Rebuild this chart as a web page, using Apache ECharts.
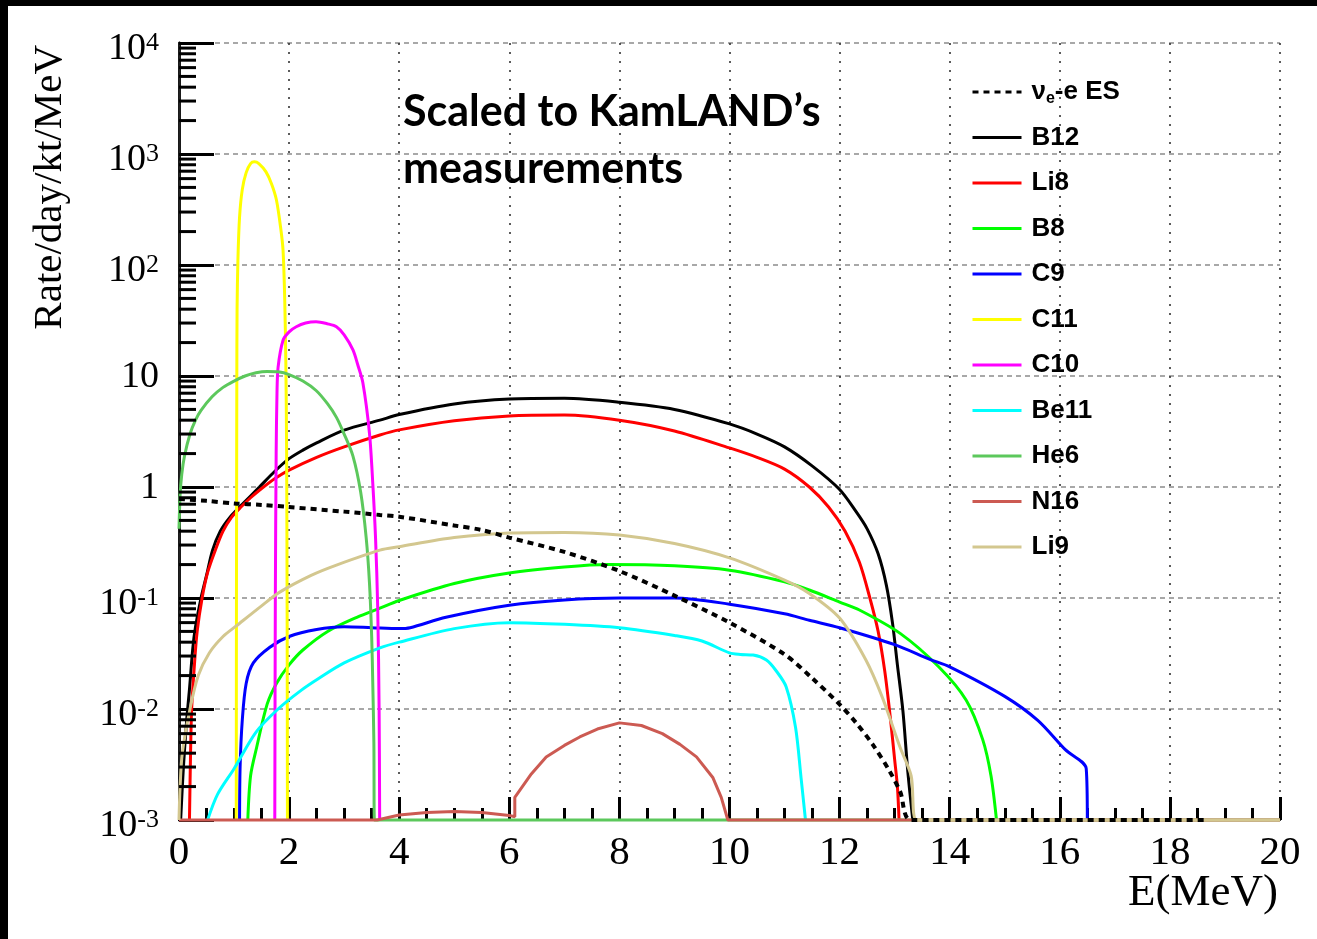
<!DOCTYPE html>
<html>
<head>
<meta charset="utf-8">
<script src="https://cdn.jsdelivr.net/npm/echarts@6/dist/echarts.min.js"></script>
<style>
  html, body { margin: 0; padding: 0; background: #fff; }
  #chart { width: 1317px; height: 939px; }
</style>
</head>
<body>
<div id="chart"></div>
<script>
// Spectra: [E (MeV), rate (/day/kt/MeV)]
const nueES = [[0,0.78],[0.5,0.75],[1,0.71],[1.5,0.69],[2,0.66],[3,0.6],[3.65,0.56],[4,0.54],[5,0.45],[5.5,0.41],[6,0.35],[7,0.26],[8,0.175],[9,0.105],[10,0.06],[11,0.031],[11.5,0.019],[12,0.011],[12.3,0.0075],[12.6,0.0048],[12.9,0.0028],[13.1,0.0018],[13.3,0.001],[18.7,0.001]];
const b12 = [[0.03,0.001],[0.08,0.003],[0.14,0.008],[0.19,0.015],[0.25,0.035],[0.3,0.055],[0.4,0.1],[0.5,0.16],[0.61,0.27],[0.75,0.4],[0.92,0.53],[1.14,0.69],[1.46,1.0],[1.75,1.4],[2,1.8],[2.25,2.15],[2.5,2.5],[3,3.25],[3.65,4.0],[4,4.5],[5,5.6],[6,6.2],[7,6.3],[8,5.8],[9,5.0],[10,3.7],[10.5,3.0],[11,2.3],[11.5,1.55],[12,0.95],[12.3,0.6],[12.5,0.42],[12.7,0.25],[12.85,0.13],[12.96,0.06],[13.05,0.025],[13.15,0.0096],[13.24,0.0027],[13.33,0.001]];
const li8 = [[0.19,0.001],[0.21,0.004],[0.23,0.01],[0.28,0.025],[0.33,0.05],[0.42,0.1],[0.52,0.17],[0.66,0.27],[0.8,0.4],[0.95,0.53],[1.14,0.67],[1.3,0.8],[1.5,0.97],[1.75,1.2],[2,1.42],[2.5,1.85],[3,2.3],[3.65,2.94],[4,3.27],[5,3.95],[6,4.37],[7,4.45],[8,4.0],[9,3.2],[10,2.25],[10.5,1.85],[11,1.45],[11.45,1.0],[11.8,0.66],[12.1,0.4],[12.36,0.21],[12.55,0.1],[12.7,0.05],[12.82,0.022],[12.92,0.0085],[13.0,0.0035],[13.05,0.002],[13.08,0.001]];
const b8 = [[1.25,0.001],[1.3,0.0025],[1.41,0.0045],[1.6,0.011],[1.77,0.017],[2,0.025],[2.25,0.034],[2.7,0.05],[3.23,0.067],[3.65,0.081],[4,0.095],[5,0.135],[6,0.168],[7,0.19],[7.8,0.2],[9,0.195],[10,0.178],[11,0.14],[11.45,0.118],[12,0.092],[12.36,0.078],[13.1,0.048],[13.8,0.024],[14.3,0.012],[14.6,0.0053],[14.75,0.0025],[14.85,0.001]];
const c9 = [[1.1,0.001],[1.11,0.003],[1.15,0.008],[1.22,0.017],[1.35,0.026],[1.65,0.036],[2,0.045],[2.5,0.052],[3,0.055],[3.5,0.054],[4,0.053],[4.2,0.054],[4.85,0.067],[6,0.086],[7,0.096],[8,0.1],[9,0.1],[10,0.088],[11,0.072],[11.45,0.063],[12,0.054],[13,0.038],[13.64,0.028],[14,0.024],[15,0.013],[15.6,0.0079],[16.1,0.0043],[16.48,0.0029],[16.5,0.001]];
const c11 = [[1.04,0.001],[1.045,0.3],[1.05,8],[1.055,40],[1.07,110],[1.1,270],[1.15,480],[1.22,680],[1.3,820],[1.37,850],[1.45,820],[1.58,690],[1.68,540],[1.77,385],[1.85,210],[1.89,136],[1.92,50],[1.94,14],[1.955,2],[1.965,0.05],[1.97,0.001]];
const c10 = [[1.74,0.001],[1.75,0.1],[1.765,2],[1.78,7],[1.8,12],[1.89,21],[2.0,25],[2.13,27.8],[2.3,30],[2.49,30.8],[2.7,29.5],[2.86,27.8],[3.0,23.5],[3.16,17.2],[3.25,12.5],[3.34,8.7],[3.46,3.05],[3.52,1.08],[3.57,0.35],[3.61,0.08],[3.635,0.01],[3.645,0.001]];
const be11 = [[0.52,0.001],[0.7,0.0017],[1.0,0.0029],[1.4,0.0062],[1.8,0.01],[2.2,0.0145],[2.55,0.019],[3,0.026],[3.65,0.0355],[4,0.04],[5,0.053],[6,0.06],[7,0.058],[8,0.054],[9,0.046],[9.5,0.041],[10,0.032],[10.2,0.031],[10.43,0.0306],[10.67,0.0276],[10.85,0.022],[11.03,0.0158],[11.2,0.0068],[11.3,0.0024],[11.38,0.001]];
const he6 = [[0,0.42],[0.02,0.85],[0.05,1.3],[0.1,1.9],[0.2,3.0],[0.3,4.0],[0.4,4.9],[0.6,6.5],[0.8,7.9],[1.0,9.0],[1.2,10.0],[1.4,10.7],[1.6,11.0],[1.8,10.9],[2.0,10.3],[2.25,9.0],[2.49,7.4],[2.7,5.6],[2.86,4.24],[3.0,3.0],[3.16,1.9],[3.3,0.9],[3.4,0.35],[3.46,0.137],[3.5,0.045],[3.52,0.017],[3.54,0.005],[3.55,0.001],[20,0.001]];
const n16 = [[0,0.001],[3.6,0.001],[4.0,0.00111],[4.5,0.00117],[5.0,0.00119],[5.5,0.00117],[6.0,0.0011],[6.1,0.00107],[6.1,0.0016],[6.4,0.0026],[6.67,0.0037],[7.0,0.0047],[7.28,0.0056],[7.6,0.0066],[8,0.0075],[8.4,0.0071],[8.78,0.006],[9.1,0.0048],[9.4,0.0037],[9.7,0.0024],[9.85,0.0016],[9.97,0.001],[20,0.001]];
const li9 = [[0,0.001],[0.02,0.002],[0.06,0.004],[0.2,0.01],[0.35,0.02],[0.55,0.032],[0.8,0.045],[1.04,0.056],[1.5,0.085],[1.83,0.113],[2.4,0.16],[2.86,0.198],[3.65,0.27],[4,0.29],[5,0.35],[6,0.385],[7,0.39],[8,0.37],[9,0.31],[10,0.23],[11,0.145],[11.45,0.11],[12,0.066],[12.48,0.0275],[12.78,0.0126],[13.1,0.0045],[13.3,0.0025],[13.4,0.001],[20,0.001]];

// Legend / series names and colours (legend order)
const seriesNames = ['νe-e ES', 'B12', 'Li8', 'B8', 'C9', 'C11', 'C10', 'Be11', 'He6', 'N16', 'Li9'];
const seriesData = [nueES, b12, li8, b8, c9, c11, c10, be11, he6, n16, li9];
const seriesColors = ['#000000', '#000000', '#ff0000', '#00ff00', '#0000ff', '#ffff00', '#ff00ff', '#00ffff', '#5cc85c', '#cc5a52', '#d3c78f'];

// Axis ranges and tick spacing
const xRange = [0, 20];
const xStep = 2;
const yRange = [1e-3, 1e4];
const yMinorMultipliers = [2, 3, 4, 5, 6, 7, 8, 9];

// Minor log ticks on the left axis (2..9 x each decade)
const yMinorTicks = [];
for (let e = Math.log10(yRange[0]); e < Math.log10(yRange[1]); e++) {
  yMinorMultipliers.forEach(function (m) { yMinorTicks.push([xRange[0], m * Math.pow(10, e)]); });
}

const serif = '"Liberation Serif", "DejaVu Serif", serif';
const sans = '"Liberation Sans", Arial, sans-serif';

const lineSeries = seriesNames.map(function (name, i) {
  const isES = i === 0;
  return {
    name: name,
    type: 'line',
    data: seriesData[i],
    showSymbol: false,
    symbol: 'none',
    clip: false,
    smooth: name === 'N16' ? false : 0.3,
    z: isES ? 4 : 3,
    lineStyle: {
      color: seriesColors[i],
      width: isES ? 4 : 3,
      type: isES ? [6, 5] : 'solid'
    },
    itemStyle: { color: seriesColors[i] },
    emphasis: { disabled: true }
  };
});
// ES drawn on top of the others
const ordered = lineSeries.slice(1).concat([lineSeries[0]]);

const minorTickSeries = {
  type: 'custom',
  name: 'yMinorTicks',
  silent: true,
  clip: false,
  z: 5,
  data: yMinorTicks,
  encode: { x: 0, y: 1 },
  renderItem: function (params, api) {
    const p = api.coord([api.value(0), api.value(1)]);
    return {
      type: 'line',
      shape: { x1: p[0], y1: p[1], x2: p[0] + 17, y2: p[1] },
      style: { stroke: '#000', lineWidth: 3 }
    };
  }
};

const chart = echarts.init(document.getElementById('chart'), null, { renderer: 'canvas' });
chart.setOption({
  animation: false,
  backgroundColor: '#ffffff',
  grid: { left: 179, right: 37, top: 43, bottom: 119, outerBoundsMode: 'none' },
  legend: {
    orient: 'vertical',
    left: 971,
    top: 77,
    padding: 0,
    itemWidth: 49,
    itemHeight: 14,
    itemGap: 15.5,
    selectedMode: false,
    data: seriesNames,
    lineStyle: { width: 3 },
    itemStyle: { color: 'transparent', borderWidth: 0, opacity: 0 },
    textStyle: {
      fontFamily: sans, fontWeight: 'bold', fontSize: 26, color: '#000', lineHeight: 30,
      padding: [0, 0, 0, 5],
      rich: {
        t: { fontFamily: sans, fontWeight: 'bold', fontSize: 26, color: '#000', lineHeight: 30 },
        sub: { fontFamily: sans, fontWeight: 'bold', fontSize: 16, color: '#000', lineHeight: 16, padding: [14, 0, 0, 0] }
      }
    },
    formatter: function (name) {
      if (name === 'νe-e ES') return '{t|ν}{sub|e}{t|-e ES}';
      return name;
    }
  },
  xAxis: [{
    type: 'value',
    min: xRange[0], max: xRange[1], interval: xStep,
    axisLine: { show: true, onZero: false, lineStyle: { color: '#000', width: 2 } },
    axisTick: { show: true, inside: true, length: 23, lineStyle: { color: '#000', width: 3 } },
    minorTick: { show: true, splitNumber: 4, length: 12, lineStyle: { color: '#000', width: 3 } },
    axisLabel: { color: '#000', fontFamily: serif, fontSize: 41, margin: 13 },
    splitLine: { show: true, lineStyle: { color: '#333', width: 1.6, type: [2, 7] } }
  }],
  yAxis: [{
    type: 'log', logBase: 10,
    min: yRange[0], max: yRange[1], interval: 1, splitNumber: 7,
    axisLine: { show: true, onZero: false, lineStyle: { color: '#000', width: 3 } },
    axisTick: { show: true, inside: true, length: 35, lineStyle: { color: '#000', width: 3 } },
    axisLabel: {
      margin: 20,
      formatter: function (v) {
        const e = Math.round(Math.log10(v));
        if (e === 0) return '{b|1}';
        if (e === 1) return '{b|10}';
        return '{b|10}{s|' + e + '}';
      },
      rich: {
        b: { fontFamily: serif, fontSize: 38, color: '#000', lineHeight: 40, verticalAlign: 'bottom' },
        s: { fontFamily: serif, fontSize: 26, color: '#000', lineHeight: 50 }
      }
    },
    splitLine: { show: true, lineStyle: { color: '#a8a8a8', width: 2, type: [5, 4] } }
  }, {
    type: 'log', logBase: 10, position: 'right',
    min: yRange[0], max: yRange[1],
    axisLine: { show: true, lineStyle: { color: '#222', width: 2.5 } },
    axisTick: { show: false }, axisLabel: { show: false }, splitLine: { show: false }
  }],
  graphic: [
    { type: 'rect', left: 0, top: 0, shape: { width: 1317, height: 6 }, style: { fill: '#000' }, z: 100 },
    { type: 'rect', left: 0, top: 0, shape: { width: 8, height: 939 }, style: { fill: '#000' }, z: 100 },
    {
      type: 'text', x: 50, y: 45, rotation: Math.PI / 2,
      style: { text: 'Rate/day/kt/MeV', font: '41px ' + serif, fill: '#000', align: 'right', verticalAlign: 'middle' }
    },
    {
      type: 'text', x: 1278, y: 893,
      style: { text: 'E(MeV)', font: '45px ' + serif, fill: '#000', align: 'right', verticalAlign: 'middle' }
    },
    {
      type: 'text', x: 403, y: 112,
      style: { text: 'Scaled to KamLAND’s', font: 'bold 43px Lato, "Open Sans", sans-serif', fill: '#000', align: 'left', verticalAlign: 'middle' }
    },
    {
      type: 'text', x: 403, y: 169,
      style: { text: 'measurements', font: 'bold 43px Lato, "Open Sans", sans-serif', fill: '#000', align: 'left', verticalAlign: 'middle' }
    }
  ],
  series: ordered.concat([minorTickSeries])
});
</script>
</body>
</html>
